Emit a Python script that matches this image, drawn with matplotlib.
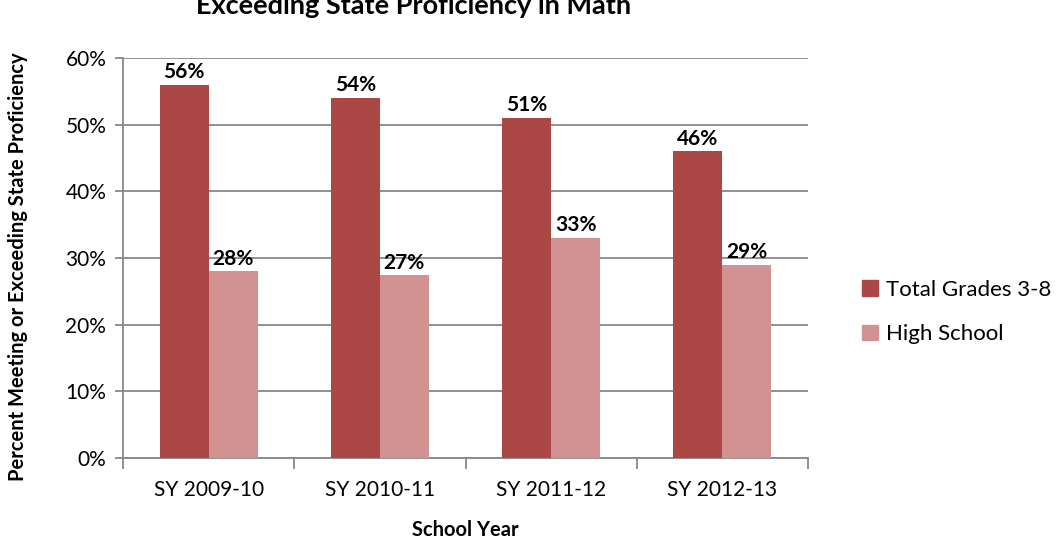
import matplotlib
matplotlib.use("Agg")
import matplotlib.pyplot as plt
import numpy as np
from matplotlib.patches import Patch

categories = ["SY 2009-10", "SY 2010-11", "SY 2011-12", "SY 2012-13"]
series_names = ["Total Grades 3-8", "High School"]
grades_3_8 = [56, 54, 51, 46]
high_school = [28, 27.4, 33, 29]
labels_3_8 = ["56%", "54%", "51%", "46%"]
labels_hs = ["28%", "27%", "33%", "29%"]
yticks = [0, 10, 20, 30, 40, 50, 60]

plt.rcParams['font.family'] = ['Lato', 'DejaVu Sans']

c_dark = "#AB4745"
c_light = "#D39292"
gridc = "#888888"

fig = plt.figure(figsize=(10.57, 5.43), dpi=100)
ax = fig.add_axes([0.1164, 0.1565, 0.648, 0.7367])

x = np.arange(len(categories))
w = 1 / 3.5
b1 = ax.bar(x - w / 2, grades_3_8, w, color=c_dark, zorder=3)
b2 = ax.bar(x + w / 2, high_school, w, color=c_light, zorder=3)

for rect, lab in zip(b1, labels_3_8):
    ax.text(rect.get_x() + rect.get_width() / 2, rect.get_height() + 0.4, lab,
            ha='center', va='bottom', fontsize=15, fontweight='bold', zorder=4)
for rect, lab in zip(b2, labels_hs):
    ax.text(rect.get_x() + rect.get_width() / 2, rect.get_height() + 0.4, lab,
            ha='center', va='bottom', fontsize=15, fontweight='bold', zorder=4)

ax.set_xlim(-0.5, len(categories) - 0.5)
ax.set_ylim(0, 60)
ax.set_yticks(yticks)
ax.set_yticklabels([f"{v}%" for v in yticks], fontsize=15)
ax.yaxis.grid(True, color=gridc, linewidth=1.3, zorder=0)
ax.set_axisbelow(True)

ax.set_xticks(x)
ax.set_xticklabels(categories, fontsize=15)
ax.tick_params(axis='x', length=0, pad=16)
ax.set_xticks(np.arange(-0.5, len(categories)), minor=True)
ax.tick_params(axis='x', which='minor', length=8, color=gridc, width=1.3)
ax.tick_params(axis='y', length=6, color=gridc, width=1.3, pad=6)

for s in ['top', 'right']:
    ax.spines[s].set_visible(False)
for s in ['left', 'bottom']:
    ax.spines[s].set_color(gridc)
    ax.spines[s].set_linewidth(1.3)

ax.set_xlabel("School Year", fontsize=14.5, fontweight='bold', labelpad=14)

fig.text(18 / 1057, 1 - 267 / 543, "Percent Meeting or Exceeding State Proficiency",
         rotation=90, ha='center', va='center', fontsize=14.5, fontweight='bold')

fig.text(414 / 1057, 1 - 14 / 543, "Exceeding State Proficiency in Math",
         ha='center', va='baseline', fontsize=19.5, fontweight='bold')

handles = [Patch(color=c_dark), Patch(color=c_light)]
fig.legend(handles, series_names, loc='center left',
           bbox_to_anchor=(0.797, 0.425), frameon=False, fontsize=16,
           handlelength=0.7, handleheight=0.7, handletextpad=0.35,
           labelspacing=1.1)

fig.savefig("out.png", dpi=100)
